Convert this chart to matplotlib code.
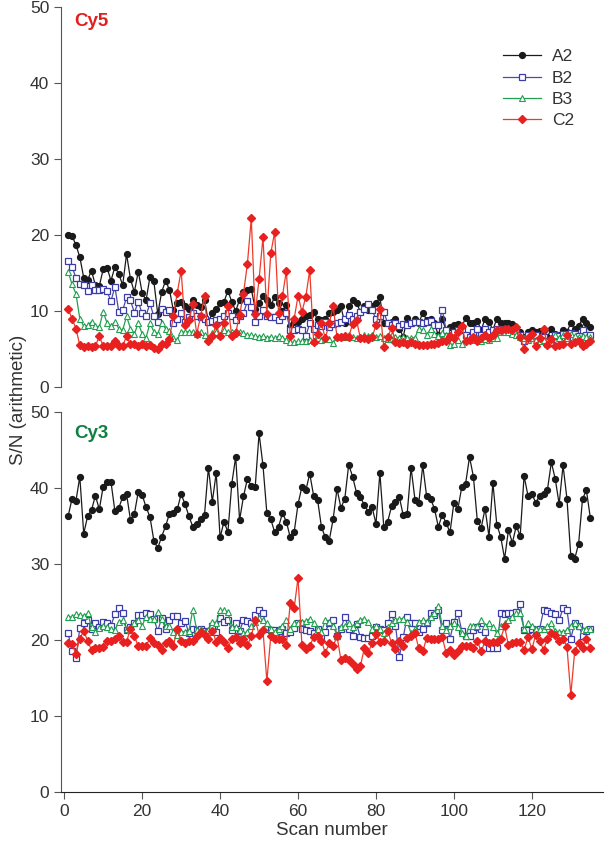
import matplotlib
matplotlib.use('Agg')
import matplotlib.pyplot as plt

plt.rcParams['font.family'] = ['Liberation Sans', 'DejaVu Sans']

# ------------- Data ------------- #
scan = list(range(1, 136))

cy5_a2 = [20.0, 19.9, 18.7, 17.1, 14.4, 14.1, 15.3, 13.4, 13.3, 15.5,
          15.7, 14.0, 15.8, 14.9, 13.4, 17.5, 14.2, 12.5, 15.2, 12.4,
          11.4, 14.5, 13.9, 9.6, 12.5, 14.0, 12.8, 10.1, 11.0, 11.2,
          10.6, 10.3, 11.5, 10.8, 10.5, 11.5, 8.5, 9.8, 10.3, 11.0,
          11.2, 12.7, 11.2, 10.0, 11.5, 12.5, 12.8, 12.9, 10.3, 11.0,
          12.0, 11.5, 10.8, 11.8, 11.0, 10.0, 10.8, 8.0, 8.5, 8.6,
          9.0, 9.3, 9.5, 9.9, 8.9, 8.8, 9.0, 9.8, 9.9, 10.1,
          10.6, 8.4, 10.6, 11.4, 11.1, 9.9, 10.6, 10.1, 10.6, 11.0,
          11.8, 8.4, 8.4, 8.6, 8.9, 7.7, 6.6, 9.1, 8.4, 9.0,
          8.4, 9.8, 8.8, 9.0, 8.4, 6.8, 8.9, 7.5, 7.9, 8.2,
          8.3, 7.9, 9.1, 8.4, 8.4, 8.7, 7.5, 9.0, 8.6, 7.5,
          9.0, 8.4, 8.4, 8.4, 8.3, 7.5, 7.2, 6.6, 7.3, 7.5,
          7.3, 7.4, 7.5, 6.6, 7.7, 7.0, 6.9, 7.5, 7.3, 8.4,
          7.6, 8.0, 9.0, 8.4, 7.9]

cy5_b2 = [16.6, 15.8, 14.4, 13.6, 13.4, 12.6, 13.4, 12.8, 12.8, 12.9,
          12.6, 11.3, 13.2, 9.9, 10.1, 11.8, 11.4, 9.8, 11.2, 9.7,
          9.4, 11.0, 9.3, 8.6, 10.3, 9.9, 10.1, 8.4, 9.0, 9.7,
          8.6, 9.2, 9.7, 9.4, 9.2, 9.0, 8.5, 8.7, 8.8, 9.0,
          9.3, 9.7, 9.4, 8.8, 9.4, 9.7, 11.3, 10.5, 8.6, 9.4,
          10.1, 9.4, 9.2, 9.2, 8.8, 9.4, 9.7, 7.5, 7.5, 7.7,
          7.5, 6.7, 8.4, 7.6, 8.1, 8.0, 8.5, 7.9, 8.3, 8.4,
          8.5, 9.0, 9.5, 8.9, 9.3, 9.9, 10.3, 10.9, 10.1, 9.0,
          9.3, 9.9, 8.4, 8.2, 8.4, 8.0, 8.3, 8.2, 8.4, 8.5,
          8.6, 8.4, 8.5, 8.7, 8.2, 8.1, 10.2, 7.5, 6.6, 7.3,
          7.5, 7.5, 6.9, 6.6, 7.3, 7.7, 6.8, 7.7, 7.3, 7.5,
          7.6, 7.7, 7.5, 7.5, 7.1, 7.3, 6.9, 6.1, 6.8, 6.4,
          6.9, 6.2, 6.6, 6.1, 5.8, 6.8, 6.7, 7.0, 6.6, 7.1,
          7.0, 6.7, 7.5, 6.9, 6.8]

cy5_b3 = [15.2, 13.5, 12.3, 9.0, 8.0, 8.1, 8.6, 8.0, 7.9, 9.9,
          8.4, 8.0, 8.6, 7.7, 7.5, 9.3, 7.7, 7.0, 8.4, 7.0,
          6.5, 8.4, 7.3, 7.0, 8.4, 7.7, 7.4, 6.4, 6.2, 7.3,
          7.2, 7.3, 7.2, 7.0, 7.2, 6.9, 6.5, 7.1, 7.3, 6.9,
          7.5, 7.3, 7.2, 7.4, 7.3, 7.1, 6.8, 6.8, 6.7, 6.6,
          6.7, 6.5, 6.6, 6.4, 6.7, 6.5, 6.2, 5.9, 5.9, 6.0,
          6.0, 6.1, 6.2, 6.1, 6.4, 6.2, 6.3, 6.3, 5.8, 6.6,
          6.7, 6.6, 6.8, 6.6, 6.4, 6.6, 6.8, 6.7, 6.9, 6.6,
          6.7, 6.5, 6.3, 6.9, 6.6, 6.4, 6.6, 6.4, 6.5, 6.5,
          7.7, 7.5, 6.9, 7.6, 7.0, 6.7, 7.1, 6.9, 5.5, 5.7,
          6.2, 5.7, 6.2, 6.4, 6.2, 6.4, 6.1, 6.3, 6.2, 6.4,
          6.4, 7.3, 7.2, 7.3, 7.0, 6.8, 6.6, 6.4, 6.2, 6.4,
          6.2, 6.1, 6.2, 5.7, 6.5, 6.9, 6.4, 6.9, 6.5, 7.0,
          6.7, 6.6, 6.7, 6.6, 6.6]

cy5_c2 = [10.3, 9.0, 7.7, 5.5, 5.3, 5.4, 5.3, 5.4, 6.7, 5.4,
          5.4, 5.4, 6.1, 5.4, 5.4, 6.7, 5.6, 5.6, 5.4, 5.6,
          5.4, 5.5, 5.2, 5.0, 5.7, 5.7, 6.3, 9.3, 12.4, 15.3,
          8.1, 8.8, 10.9, 7.0, 9.3, 12.0, 6.1, 6.7, 8.2, 6.7,
          8.4, 10.7, 6.7, 7.1, 9.5, 12.3, 16.2, 22.2, 9.6, 14.2,
          19.7, 9.6, 17.6, 20.4, 9.7, 12.0, 15.3, 6.7, 9.0, 12.0,
          9.9, 11.9, 15.4, 5.9, 7.0, 8.4, 6.4, 8.4, 10.6, 6.6,
          6.6, 6.7, 6.6, 8.3, 8.8, 6.4, 6.5, 6.3, 6.6, 8.1,
          10.3, 5.3, 6.6, 7.8, 5.9, 5.8, 5.9, 5.7, 5.9, 5.7,
          5.5, 5.5, 5.5, 5.6, 5.7, 5.8, 6.0, 6.1, 6.7, 6.4,
          7.3, 8.0, 6.0, 6.2, 6.6, 6.1, 6.5, 6.9, 6.4, 6.8,
          7.5, 7.5, 7.6, 7.7, 7.5, 7.9, 6.6, 5.0, 6.4, 7.0,
          5.4, 6.4, 7.7, 5.5, 6.3, 5.4, 5.5, 5.7, 6.8, 5.7,
          5.9, 6.1, 5.4, 5.7, 6.1]

cy3_a2 = [36.3, 38.6, 38.3, 41.5, 34.0, 36.3, 37.1, 39.0, 37.2, 40.2,
          40.8, 40.8, 37.0, 37.4, 38.8, 39.2, 35.8, 36.6, 39.5, 39.1,
          37.5, 36.2, 33.1, 32.1, 33.6, 35.0, 36.6, 36.7, 37.2, 39.2,
          37.9, 36.3, 34.9, 35.3, 35.9, 36.5, 42.7, 38.2, 42.0, 33.5,
          35.6, 34.2, 40.6, 44.1, 35.8, 38.9, 41.2, 40.3, 40.1, 47.2,
          43.0, 36.7, 35.9, 34.2, 34.9, 36.7, 35.6, 33.5, 34.2, 37.9,
          40.2, 39.7, 41.9, 39.0, 38.5, 34.9, 33.5, 33.1, 35.9, 39.9,
          37.4, 38.6, 43.1, 41.5, 39.4, 38.8, 37.8, 36.9, 37.5, 35.3,
          42.0, 34.9, 35.6, 37.6, 38.2, 38.8, 36.4, 36.6, 42.7, 38.5,
          38.1, 43.0, 38.9, 38.6, 37.3, 34.9, 36.5, 35.4, 34.2, 38.1,
          37.2, 40.1, 40.6, 44.1, 41.5, 35.7, 34.8, 37.3, 33.6, 40.7,
          35.2, 33.6, 30.7, 34.5, 32.8, 35.0, 33.7, 41.6, 39.0, 39.2,
          38.1, 39.0, 39.2, 39.8, 43.4, 41.2, 37.9, 43.0, 38.6, 31.0,
          30.7, 32.7, 38.6, 39.7, 36.1]

cy3_b2 = [20.9, 18.5, 17.6, 21.6, 22.2, 22.6, 21.4, 22.3, 21.7, 22.4,
          22.2, 21.9, 23.4, 24.2, 23.6, 21.3, 21.7, 22.3, 23.3, 23.3,
          23.6, 23.4, 22.8, 21.2, 22.9, 21.5, 22.7, 23.2, 23.2, 22.2,
          22.5, 20.9, 21.4, 21.3, 21.5, 21.2, 21.1, 21.8, 21.1, 22.9,
          22.4, 22.6, 21.3, 22.2, 21.2, 22.6, 22.5, 22.2, 23.3, 23.9,
          23.6, 21.5, 21.3, 21.3, 21.2, 21.5, 20.9, 21.1, 21.6, 22.2,
          21.5, 21.3, 21.2, 20.9, 21.5, 20.6, 21.1, 22.2, 22.7, 20.6,
          21.5, 23.1, 21.5, 20.5, 22.1, 20.4, 20.3, 20.3, 20.5, 21.7,
          21.5, 21.3, 22.2, 23.4, 21.9, 17.8, 20.4, 23.1, 22.2, 22.2,
          21.1, 21.5, 22.2, 23.6, 23.3, 23.9, 21.3, 22.2, 20.2, 22.4,
          23.6, 21.2, 20.5, 20.6, 21.3, 21.7, 21.5, 21.1, 18.9, 18.9,
          18.9, 23.6, 23.4, 23.6, 23.5, 23.7, 24.7, 21.3, 21.3, 21.5,
          21.1, 21.5, 23.9, 23.8, 23.6, 23.4, 22.6, 24.2, 24.0, 20.2,
          22.3, 21.9, 20.6, 21.2, 21.5]

cy3_b3 = [23.1, 23.0, 23.4, 23.3, 23.2, 23.5, 21.7, 21.1, 21.6, 21.9,
          21.7, 21.5, 21.3, 22.4, 22.6, 21.5, 21.3, 22.3, 22.6, 21.9,
          23.1, 22.8, 22.8, 23.7, 22.8, 21.9, 21.9, 21.1, 20.7, 21.1,
          21.1, 21.2, 24.0, 21.3, 21.4, 21.1, 21.3, 22.4, 22.3, 23.9,
          23.9, 23.7, 21.7, 21.7, 21.3, 20.9, 21.1, 21.9, 22.4, 22.9,
          22.6, 22.2, 21.5, 21.1, 21.5, 21.9, 22.6, 21.4, 22.2, 22.3,
          22.4, 22.5, 22.8, 22.2, 21.5, 21.1, 22.6, 22.4, 21.9, 20.6,
          21.7, 21.9, 22.2, 21.7, 22.2, 22.7, 22.8, 22.4, 21.5, 21.8,
          21.4, 20.9, 21.7, 22.2, 22.7, 22.8, 22.8, 22.4, 20.9, 21.5,
          22.4, 22.6, 22.4, 23.0, 23.5, 24.5, 21.9, 21.3, 21.9, 22.2,
          21.7, 20.9, 20.6, 21.8, 21.9, 21.8, 22.7, 21.9, 22.2, 21.7,
          20.9, 21.9, 22.2, 22.7, 23.1, 23.5, 23.5, 21.5, 22.2, 21.9,
          21.5, 21.4, 21.5, 21.8, 22.2, 21.2, 21.1, 21.1, 21.3, 21.9,
          22.2, 21.8, 21.3, 21.4, 21.5]

cy3_c2 = [19.6, 19.5, 18.2, 20.2, 21.2, 19.9, 18.7, 18.9, 19.0, 19.1,
          19.9, 19.9, 20.2, 20.5, 19.8, 19.8, 21.5, 20.5, 19.2, 19.2,
          19.2, 20.3, 19.6, 19.3, 18.7, 19.6, 19.9, 19.2, 21.5, 19.9,
          19.6, 19.9, 19.9, 20.5, 21.1, 20.7, 20.1, 21.2, 19.8, 20.3,
          19.8, 19.0, 20.1, 20.4, 19.6, 20.2, 19.3, 20.5, 22.7, 20.7,
          21.3, 14.6, 20.5, 20.1, 20.1, 20.1, 19.3, 24.9, 24.2, 28.2,
          19.3, 18.8, 19.2, 20.4, 20.5, 19.9, 18.3, 19.6, 19.2, 20.5,
          17.4, 17.6, 17.4, 16.9, 16.2, 16.6, 18.9, 18.3, 19.6, 20.8,
          19.8, 19.9, 21.2, 19.6, 18.8, 19.9, 19.2, 20.3, 20.5, 20.9,
          18.9, 18.5, 20.3, 20.1, 20.2, 20.1, 20.4, 18.3, 18.7, 18.0,
          18.6, 19.2, 19.2, 19.2, 19.0, 19.9, 18.5, 19.9, 19.6, 19.8,
          19.8, 20.2, 21.8, 19.3, 19.6, 19.8, 19.8, 18.7, 20.4, 18.8,
          20.7, 19.9, 18.7, 20.2, 20.9, 20.7, 19.9, 20.2, 19.1, 12.8,
          18.6, 19.6, 18.9, 20.2, 19.0]

series_names = ['A2', 'B2', 'B3', 'C2']
yticks = [0, 10, 20, 30, 40, 50]
xticks = [0, 20, 40, 60, 80, 100, 120]

# ------------- Plot Setup ------------- #
styles = {
    'A2': dict(color='#1a1a1a', marker='o', mfc='#1a1a1a', mec='#1a1a1a', ms=4.2),
    'B2': dict(color='#4b4ba8', marker='s', mfc='white', mec='#3c3ca8', ms=3.8, mew=0.9),
    'B3': dict(color='#20a050', marker='^', mfc='white', mec='#20a050', ms=4.0, mew=0.8),
    'C2': dict(color='#ee3a2a', marker='D', mfc='#e82020', mec='#e82020', ms=3.6),
}

fig = plt.figure(figsize=(6.05, 8.48), dpi=100)
ax1 = fig.add_axes([0.101, 0.5436, 0.896, 0.448])
ax2 = fig.add_axes([0.101, 0.066, 0.896, 0.448])

tick_col = '#333333'
spine_col = '#555555'

for ax, data in [(ax1, [cy5_a2, cy5_b2, cy5_b3, cy5_c2]),
                 (ax2, [cy3_a2, cy3_b2, cy3_b3, cy3_c2])]:
    for name, vals in zip(series_names, data):
        ax.plot(scan, vals, lw=0.9, label=name, **styles[name])
    ax.set_xlim(-0.8, 138.3)
    ax.set_ylim(0, 50)
    ax.set_yticks(yticks)
    ax.spines['top'].set_visible(False)
    ax.spines['right'].set_visible(False)
    ax.spines['left'].set_color(spine_col)
    ax.spines['bottom'].set_color('#222222')
    ax.tick_params(axis='y', direction='out', length=5, color=spine_col,
                   labelsize=12.5, labelcolor=tick_col)
    ax.tick_params(axis='x', direction='out', length=5, color=spine_col,
                   labelsize=12.5, labelcolor=tick_col)

ax1.spines['bottom'].set_visible(False)
ax1.set_xticks([])

ax2.set_xticks(xticks)
ax2.set_xlabel('Scan number', fontsize=13.5, color=tick_col, labelpad=2)

ax1.text(0.025, 0.985, 'Cy5', transform=ax1.transAxes, color='#e02020',
         fontsize=13.5, fontweight='bold', va='top', ha='left')
ax2.text(0.025, 0.965, 'Cy3', transform=ax2.transAxes, color='#108040',
         fontsize=13.5, fontweight='bold', va='top', ha='left')

fig.text(0.03, 0.528, 'S/N (arithmetic)', rotation=90, fontsize=13.5,
         color=tick_col, ha='center', va='center')

ax1.legend(loc='upper right', bbox_to_anchor=(0.975, 0.93), frameon=False,
           fontsize=12.5, handlelength=2.2, handletextpad=0.6, labelspacing=0.35,
           labelcolor=tick_col)

# ------------- Save plot ------------- #
fig.savefig('out.png', dpi=100)
